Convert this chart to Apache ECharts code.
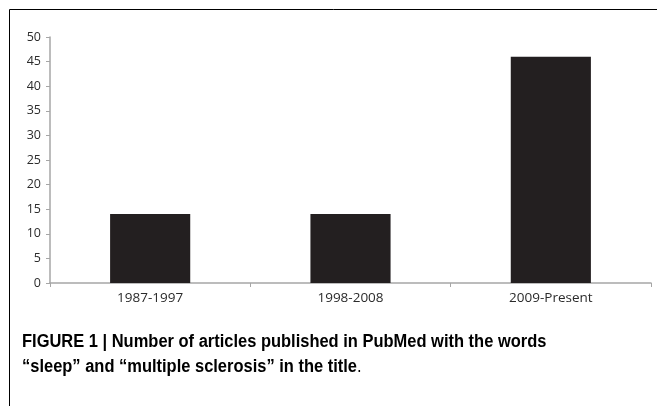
<!DOCTYPE html>
<html>
<head>
<meta charset="utf-8">
<script src="https://cdn.jsdelivr.net/npm/echarts@6/dist/echarts.min.js"></script>
<style>
html,body{margin:0;padding:0;background:#fff;}
#c{width:657px;height:406px;}
</style>
</head>
<body>
<div id="c"></div>
<script>
const categories = ['1987-1997', '1998-2008', '2009-Present'];
const articleCounts = [14, 14, 46];
const yTicks = { min: 0, max: 50, interval: 5 };
const captionLine1 = 'FIGURE 1 | Number of articles published in PubMed with the words';
const captionLine2 = '\u201csleep\u201d and \u201cmultiple sclerosis\u201d in the title';

const chart = echarts.init(document.getElementById('c'), null, { renderer: 'canvas' });
const capFont = '"Liberation Sans", Arial, sans-serif';
const lblFont = '"Open Sans", sans-serif';
chart.setOption({
  animation: false,
  grid: { left: 50, right: 6, top: 37, bottom: 123, containLabel: false },
  xAxis: {
    type: 'category',
    data: categories,
    axisLine: { lineStyle: { color: '#a6a6a6', width: 1.5 } },
    axisTick: { show: true, alignWithLabel: false, length: 4, lineStyle: { color: '#a6a6a6' } },
    axisLabel: { color: '#2b2b2b', fontSize: 13.5, fontFamily: lblFont, margin: 8 }
  },
  yAxis: {
    type: 'value',
    min: yTicks.min, max: yTicks.max, interval: yTicks.interval,
    splitLine: { show: false },
    axisLine: { show: true, lineStyle: { color: '#a6a6a6', width: 1.5 } },
    axisTick: { show: true, length: 4, lineStyle: { color: '#a6a6a6' } },
    axisLabel: { color: '#2b2b2b', fontSize: 12.5, fontFamily: lblFont, margin: 9 }
  },
  series: [{
    type: 'bar',
    data: articleCounts,
    barWidth: '40%',
    itemStyle: { color: '#231f20' }
  }],
  graphic: [
    { type: 'line', shape: { x1: 9.5, y1: 9.5, x2: 657, y2: 9.5 }, style: { stroke: '#000', lineWidth: 1 } },
    { type: 'line', shape: { x1: 9.5, y1: 9.5, x2: 9.5, y2: 406 }, style: { stroke: '#000', lineWidth: 1 } },
    { type: 'text', x: 22, y: 333, scaleX: 0.915, style: { text: captionLine1, font: 'bold 18px ' + capFont, fill: '#000', verticalAlign: 'top' } },
    { type: 'text', x: 22, y: 358, scaleX: 0.915, style: {
        text: '{b|' + captionLine2 + '}{n|.}',
        verticalAlign: 'top',
        rich: {
          b: { font: 'bold 18px ' + capFont, fill: '#000' },
          n: { font: '18px ' + capFont, fill: '#000' }
        }
    } }
  ]
});
</script>
</body>
</html>
